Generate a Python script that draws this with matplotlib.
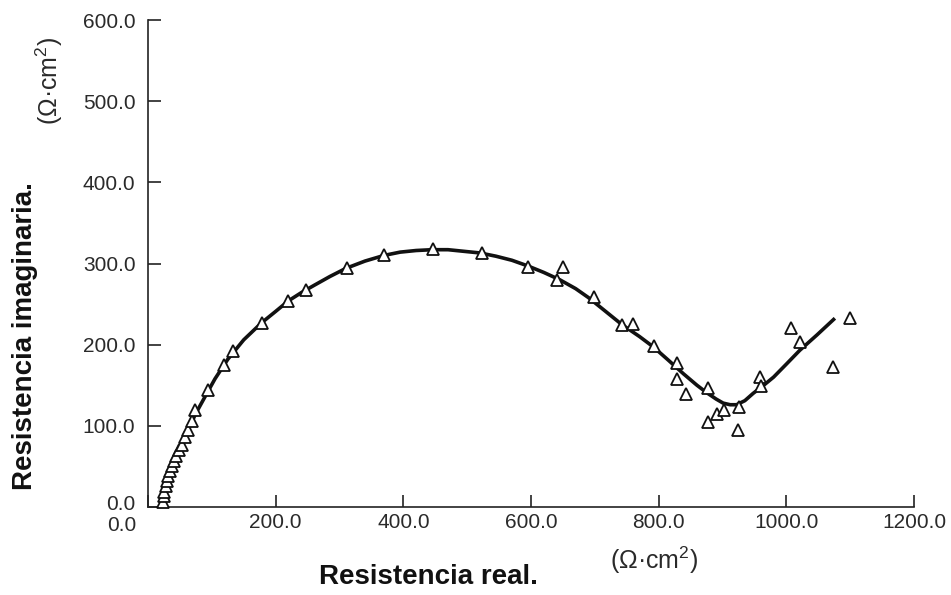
import matplotlib
matplotlib.use("Agg")
import matplotlib.pyplot as plt
import matplotlib.transforms as mtransforms

# Measured impedance points (real, imaginary), Ohm*cm2
real_pts = [24, 25, 25.5, 27.5, 29, 31.5, 34.5, 37, 40.5, 44, 48.5, 53, 58, 63, 68.5,
            74, 94, 119, 133, 178, 220, 247, 312, 370, 447, 523, 596, 641, 650, 699,
            742, 760, 792, 829, 829, 843, 877, 878, 891, 902, 926, 925, 959, 960,
            1008, 1022, 1073, 1100]
imag_pts = [6, 13, 19, 26, 32, 38.5, 44.5, 50.5, 56.5, 63, 70, 77, 86, 95, 106,
            119, 144, 175, 192, 227, 254, 267, 295, 310, 318, 313, 296, 280, 296, 259,
            224, 226, 198, 177, 158, 139, 146, 105, 114, 120, 123, 95, 160, 149,
            221, 203, 172, 233]

# Fitted curve
fit_real = [22, 23, 25, 28, 32, 37, 44, 52, 62, 74, 88, 105, 125, 150, 178, 200, 220,
            240, 260, 285, 310, 340, 370, 395, 420, 445, 470, 495, 520, 545, 570, 595,
            620, 645, 670, 690, 709, 742, 770, 792, 815, 839, 860, 875, 890, 901, 912,
            922, 935, 948, 963, 980, 1000, 1021, 1048, 1074]
fit_imag = [0, 8, 18, 28, 38, 50, 62, 76, 93, 114, 134, 158, 182, 206, 227, 241, 254,
            264, 273, 284, 294, 303, 310, 314, 316, 317, 317, 315, 313, 309, 304, 297,
            289, 280, 269, 258, 246, 225, 210, 197, 181, 164, 150, 141, 133, 128, 126,
            126, 131, 140, 149, 160, 176, 193, 212, 231]

x_ticks = [0, 200, 400, 600, 800, 1000, 1200]
y_ticks = [0, 100, 200, 300, 400, 500, 600]

plt.rcParams['font.family'] = ['Liberation Sans', 'DejaVu Sans']
plt.rcParams['mathtext.fontset'] = 'custom'
plt.rcParams['mathtext.rm'] = 'Liberation Sans'
plt.rcParams['mathtext.default'] = 'regular'

W, H = 951, 595
fig = plt.figure(figsize=(W / 100, H / 100), dpi=100)
ax = fig.add_axes([148 / W, (H - 507) / H, (914 - 148) / W, (507 - 20) / H])

ax.plot(fit_real, fit_imag, color='#111111', lw=2.6, zorder=2,
        solid_joinstyle='round')
ax.plot(real_pts, imag_pts, ls='none', marker='^', ms=8.5, mfc='white',
        mec='#111111', mew=1.3, zorder=3, clip_on=False)

ax.set_xlim(0, 1200)
ax.set_ylim(0, 600)
ax.set_xticks(x_ticks)
ax.set_yticks(y_ticks)
ax.set_xticklabels([f"{v:.1f}" for v in x_ticks])
ax.set_yticklabels([f"{v:.1f}" for v in y_ticks])

for side in ['top', 'right']:
    ax.spines[side].set_visible(False)
for side in ['left', 'bottom']:
    ax.spines[side].set_linewidth(1.2)
    ax.spines[side].set_color('#222222')

ax.tick_params(axis='both', direction='in', length=9, width=1.2, color='#222222',
               labelsize=15, labelcolor='#2a2a2a')
ax.tick_params(axis='x', pad=4)
ax.tick_params(axis='y', pad=9)

# the two "0.0" labels at the origin sit apart in the original
shift_x = mtransforms.ScaledTranslation(-26 / 100, -3 / 100, fig.dpi_scale_trans)
lbl0 = ax.get_xticklabels()[0]
lbl0.set_transform(lbl0.get_transform() + shift_x)
shift_y = mtransforms.ScaledTranslation(0, 4 / 100, fig.dpi_scale_trans)
lbly0 = ax.get_yticklabels()[0]
lbly0.set_transform(lbly0.get_transform() + shift_y)

# axis titles and units
fig.text(25 / W, 1 - 336 / H, 'Resistencia imaginaria.', rotation=90, ha='center',
         va='center', fontsize=20, fontweight='bold', color='#111111')
fig.text(49 / W, 1 - 81 / H, r'($\Omega$·cm$^{2}$)', rotation=90, ha='center',
         va='center', fontsize=18, color='#2a2a2a')
fig.text(428 / W, 1 - 577 / H, 'Resistencia real.', ha='center', va='center',
         fontsize=20, fontweight='bold', color='#111111')
fig.text(654 / W, 1 - 560 / H, r'($\Omega$·cm$^{2}$)', ha='center', va='center',
         fontsize=18, color='#2a2a2a')

fig.savefig('out.png', dpi=100, facecolor='white')
